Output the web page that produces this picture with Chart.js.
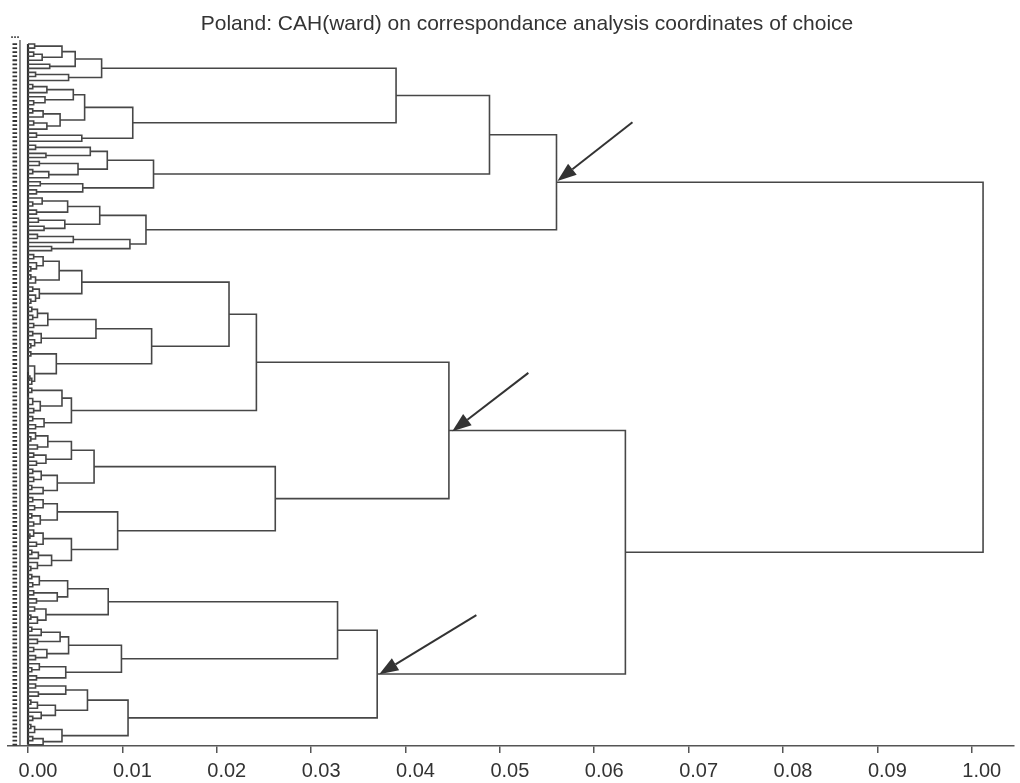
<!DOCTYPE html>
<html>
<head>
<meta charset="utf-8">
<script src="https://cdn.jsdelivr.net/npm/chart.js@4"></script>
<style>html,body{margin:0;background:#fff}</style>
</head>
<body>
<canvas id="c" width="1020" height="783"></canvas>
<script>
// titre + axe
const titleText = 'Poland: CAH(ward) on correspondance analysis coordinates of choice';
const tickValues = [0, 0.01, 0.02, 0.03, 0.04, 0.05, 0.06, 0.07, 0.08, 0.09, 0.10];
const tickLabels = ['0.00', '0.01', '0.02', '0.03', '0.04', '0.05', '0.06', '0.07', '0.08', '0.09', '1.00'];

// sous-arbres : [hauteur (x 0.001), gauche, droite], 0 = feuille
const A111 = [7.8, [5.0, [3.6, [0.7,0,0], [1.5,[0.6,0,0],0]], [2.3,0,0]], [4.3,[0.8,0,0],0]];
const A112 = [11.1,
  [6.0, [4.8, [2.0,[0.5,0,0],0], [1.8,0,[0.6,0,0]]], [3.4, [1.6,[0.5,0,0],0], [2.0,[0.6,0,0],0]]],
  [5.7, [0.9,0,0], 0]];
const A12 = [13.3,
  [8.4, [6.6,[0.8,0,0],[1.9,0,0]], [5.3,[1.2,0,0],[2.2,[0.5,0,0],0]]],
  [5.8, [1.3,0,0], [0.9,0,0]]];
const A2 = [12.5,
  [7.6, [4.2,[1.5,0,[0.5,0,0]],[0.9,0,0]], [3.9,[1.1,0,0],[1.7,0,0]]],
  [10.8, [4.8,[1.0,0,0],0], [2.5,0,0]]];
const B1111 = [5.7,
  [3.3, [1.6,[0.6,0,0],[0.9,0,[0.3,0,0]]], [0.8,[0.3,0,0],0]],
  [1.2, [0.5,0,0], [0.8,0,[0.3,0,0]]]];
const B1112 = [13.1,
  [7.2, [2.1,[1.0,[0.4,0,0],[0.5,0,0]],[0.6,0,0]], [1.4,[0.5,0,0],[0.7,0,[0.3,0,0]]]],
  [3.0, [0.3,0,0], [0.7,[0,[0,0,0],[0,0,0]],[0.4,[0.2,0,0],0]]]];
const B112 = [4.6,
  [3.6, [0.4,0,0], [1.3,[0.5,[0,0,0],0],[0.6,0,0]]],
  [1.7, [0.5,0,0], [0.8,0,0]]];
const B121 = [7.0,
  [4.6, [2.1,[0.8,0,[0.3,0,0]],[1.0,0,0]], [1.9,[0.6,0,0],[0.9,0,0]]],
  [3.1, [1.4,[0.5,0,0],[0.6,0,0]], [1.6,[0.4,0,0],0]]];
const B122 = [9.5,
  [3.1, [1.6,[0.5,0,0],[0.7,0,0]], [1.3,[0.4,0,0],[0.6,0,0]]],
  [4.6, [1.6,[0.6,0,[0.2,0,0]],[0.9,0,0]], [2.5,[1.1,[0.4,0,0],0],[1.0,0,[0.3,0,0]]]]];
const B211 = [8.5,
  [4.2, [1.2,[0.4,0,0],[0.5,0,0]], [3.1,[0.6,0,0],[0.9,0,0]]],
  [1.9, [0.7,0,0], [1.0,[0.3,0,0],0]]];
const B212 = [9.9,
  [4.3, [3.4,[1.4,[0.4,0,0],0],[1.0,0,0]], [2.0,[0.6,0,0],[0.8,0,0]]],
  [4.0, [1.2,0,[0.4,0,0]], [0.9,0,0]]];
const B22 = [10.6,
  [6.3, [4.0,[0.8,0,0],[1.1,0,0]], [2.9,[1.0,[0.3,0,0],0],[1.4,0,[0.5,0,0]]]],
  [3.6, [0.7,[0.3,0,0],0], [1.6,[0.5,0,0],0]]];

// niveaux du haut
const tree = [101.2,
  [56.0, [48.9, [39.0, A111, A112], A12], A2],
  [63.3, [44.6, [24.2, [21.3, B1111, B1112], B112], [26.2, B121, B122]], [37.0, [32.8, B211, B212], B22]]];

// fleches (x en unites de l'axe, y en rang de feuille)
const arrowTailX = [0.06405, 0.05302, 0.04751];
const arrowTailY = [19.3, 81.2, 141.0];
const arrowTipX = [0.0561, 0.04496, 0.03722];
const arrowTipY = [33.8, 95.6, 155.6];

// calcul des segments du dendrogramme
let leafCount = 0;
const segs = [];
function place(node) {
  if (node === 0) return { h: 0, y: leafCount++ };
  const l = place(node[1]);
  const r = place(node[2]);
  const h = node[0];
  segs.push({x: l.h / 1000, y: l.y}, {x: h / 1000, y: l.y}, {x: h / 1000, y: r.y}, {x: r.h / 1000, y: r.y}, {x: NaN, y: NaN});
  return { h: h, y: (l.y + r.y) / 2 };
}
place(tree);

const leafMarks = [];
for (let i = 0; i < leafCount; i++) leafMarks.push({x: -0.0014, y: i});

Chart.defaults.font.family = '"Liberation Sans", Arial, sans-serif';

const titlePlugin = {
  id: 'titre',
  afterDraw(chart) {
    const ctx = chart.ctx;
    ctx.save();
    ctx.font = '21px "Liberation Sans", Arial, sans-serif';
    ctx.fillStyle = '#333';
    ctx.textAlign = 'center';
    ctx.textBaseline = 'middle';
    ctx.fillText(titleText, 527, 24);
    ctx.font = 'bold 11px "Liberation Sans", Arial, sans-serif';
    ctx.fillText('...', 15, 35);
    ctx.restore();
  }
};

const arrowPlugin = {
  id: 'fleches',
  afterDatasetsDraw(chart) {
    const ctx = chart.ctx;
    const xs = chart.scales.x, ys = chart.scales.y;
    ctx.save();
    ctx.strokeStyle = '#333';
    ctx.fillStyle = '#333';
    ctx.lineWidth = 2;
    for (let i = 0; i < arrowTipX.length; i++) {
      const x0 = xs.getPixelForValue(arrowTailX[i]), y0 = ys.getPixelForValue(arrowTailY[i]);
      const x1 = xs.getPixelForValue(arrowTipX[i]), y1 = ys.getPixelForValue(arrowTipY[i]);
      const a = Math.atan2(y1 - y0, x1 - x0);
      const len = 19, w = 7;
      const bx = x1 - len * Math.cos(a), by = y1 - len * Math.sin(a);
      ctx.beginPath();
      ctx.moveTo(x0, y0);
      ctx.lineTo(bx, by);
      ctx.stroke();
      ctx.beginPath();
      ctx.moveTo(x1, y1);
      ctx.lineTo(bx + w * Math.sin(a), by - w * Math.cos(a));
      ctx.lineTo(bx - w * Math.sin(a), by + w * Math.cos(a));
      ctx.closePath();
      ctx.fill();
    }
    ctx.restore();
  }
};

new Chart(document.getElementById('c'), {
  type: 'scatter',
  data: {
    datasets: [
      { data: segs, showLine: true, spanGaps: false, borderColor: '#474747', borderWidth: 1.6, pointRadius: 0, fill: false },
      { data: [{x: 0, y: 0}, {x: 0, y: leafCount - 1}], showLine: true, borderColor: '#333', borderWidth: 2.2, pointRadius: 0 },
      { data: [{x: -0.00085, y: -1}, {x: -0.00085, y: leafCount}], showLine: true, borderColor: '#555', borderWidth: 1.3, pointRadius: 0 },
      { data: leafMarks, showLine: false, pointStyle: 'line', pointRadius: 2.3, borderColor: '#333', borderWidth: 1.8 }
    ]
  },
  options: {
    responsive: false,
    animation: false,
    events: [],
    layout: { padding: { top: 40, left: 8, right: 0, bottom: -6 } },
    plugins: { legend: { display: false }, tooltip: { enabled: false } },
    scales: {
      x: {
        type: 'linear',
        min: -0.00212,
        max: 0.1045,
        afterBuildTicks(axis) { axis.ticks = tickValues.map(v => ({ value: v })); },
        ticks: {
          callback: (v, i) => tickLabels[i],
          font: { size: 20 },
          color: '#333',
          labelOffset: 10,
          padding: 6,
          maxRotation: 0,
          autoSkip: false
        },
        grid: { drawOnChartArea: false, drawTicks: true, tickLength: 7, color: '#555', lineWidth: 1.5 },
        border: { display: true, color: '#555', width: 1.5 }
      },
      y: { type: 'linear', reverse: true, min: -1, max: 173.32, display: false }
    }
  },
  plugins: [titlePlugin, arrowPlugin]
});
</script>
</body>
</html>
